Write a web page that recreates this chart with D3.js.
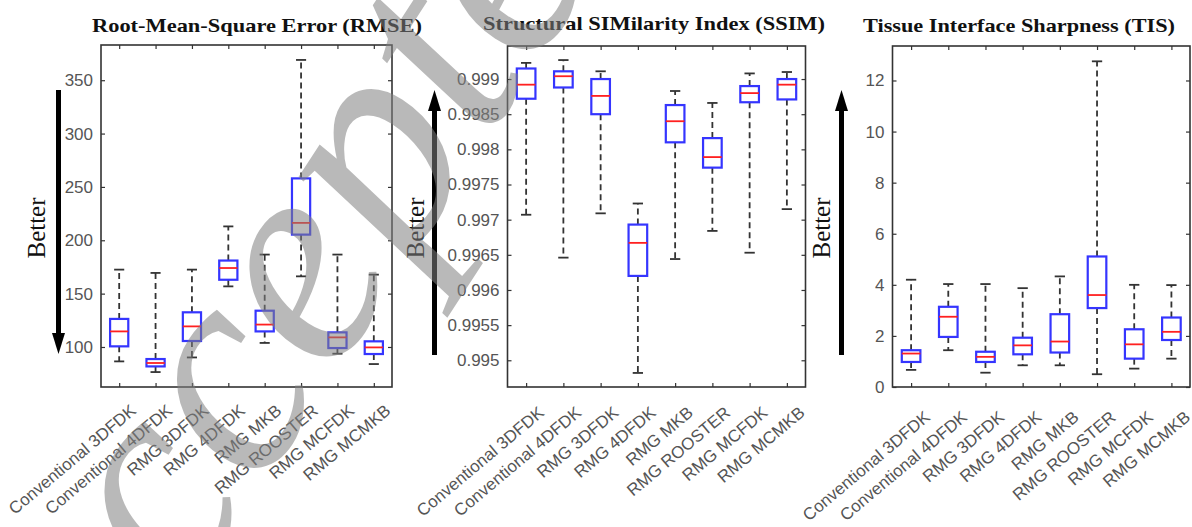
<!DOCTYPE html>
<html>
<head>
<meta charset="utf-8">
<script src="https://cdn.jsdelivr.net/npm/d3@7"></script>
<style>
  body { margin: 0; background: #fff; }
  svg { display: block; }
</style>
</head>
<body>
<script>
const width = 1192;
const height = 527;

const categories = ["Conventional 3DFDK", "Conventional 4DFDK", "RMG 3DFDK", "RMG 4DFDK",
                    "RMG MKB", "RMG ROOSTER", "RMG MCFDK", "RMG MCMKB"];

// [lower whisker, Q1, median, Q3, upper whisker]
const rmseStats = [
  [86.5, 100.6, 114.6, 126.3, 172.5],
  [76.5, 81.8, 85, 88.7, 169.4],
  [90.2, 105.6, 119.3, 132.5, 172.5],
  [156.8, 163, 174, 181, 213],
  [103.8, 114.6, 121, 134, 186.6],
  [166.2, 205.3, 216.3, 258, 369],
  [93.7, 99, 109, 113.7, 186.6],
  [84, 93.4, 99.6, 105.3, 167.8]
];
const ssimStats = [
  [0.99707, 0.99872, 0.99892, 0.99915, 0.99923],
  [0.99646, 0.99888, 0.99904, 0.99911, 0.99927],
  [0.99709, 0.9985, 0.99876, 0.999, 0.99911],
  [0.99482, 0.9962, 0.99667, 0.99693, 0.99723],
  [0.99644, 0.9981, 0.9984, 0.99863, 0.99883],
  [0.99684, 0.99774, 0.99789, 0.99816, 0.99866],
  [0.99653, 0.99867, 0.9988, 0.9989, 0.99908],
  [0.99715, 0.99871, 0.99892, 0.999, 0.9991]
];
const tisStats = [
  [0.67, 0.98, 1.31, 1.44, 4.2],
  [1.44, 1.96, 2.75, 3.14, 4.03],
  [0.56, 0.98, 1.18, 1.38, 4.03],
  [0.85, 1.28, 1.63, 1.93, 3.87],
  [0.85, 1.35, 1.78, 2.85, 4.33],
  [0.5, 3.09, 3.6, 5.11, 12.75],
  [0.72, 1.11, 1.67, 2.26, 4.0],
  [1.11, 1.84, 2.16, 2.72, 3.99]
];

const rmseTicks = [100, 150, 200, 250, 300, 350];
const ssimTicks = [0.995, 0.9955, 0.996, 0.9965, 0.997, 0.9975, 0.998, 0.9985, 0.999];
const tisTicks = [0, 2, 4, 6, 8, 10, 12];

const panels = [
  { title: "Root-Mean-Square Error (RMSE)", stats: rmseStats, ticks: rmseTicks, domain: [62.5, 383],
    x0: 101, x1: 392, top: 45, bottom: 387, titleX: 257, titleW: 330, titleY: 32,
    betterX: 45, arrowX: 58.5, arrowDown: true, labelDx: 18, labelDy: 25.5 },
  { title: "Structural SIMilarity Index (SSIM)", stats: ssimStats, ticks: ssimTicks, domain: [0.99462, 0.99947],
    x0: 507.5, x1: 805.5, top: 46, bottom: 387, titleX: 654, titleW: 342, titleY: 30,
    betterX: 424, arrowX: 434.5, arrowDown: false, labelDx: 19, labelDy: 27.5 },
  { title: "Tissue Interface Sharpness (TIS)", stats: tisStats, ticks: tisTicks, domain: [0, 13.35],
    x0: 892.5, x1: 1190, top: 46, bottom: 387, titleX: 1019, titleW: 312, titleY: 31.5,
    betterX: 830, arrowX: 841.5, arrowDown: false, labelDx: 20, labelDy: 32 }
];

const svg = d3.select("body")
    .append("svg")
    .attr("width", width)
    .attr("height", height);

panels.forEach(p => {
    const x = d3.scalePoint().domain(categories).range([p.x0, p.x1]).padding(0.5);
    const y = d3.scaleLinear().domain(p.domain).range([p.bottom, p.top]);
    const g = svg.append("g");
    const half = x.step() * 0.25;

    // axes, ticks pointing inward on all four sides
    g.append("g")
        .attr("transform", `translate(${p.x0},0)`)
        .call(d3.axisLeft(y).tickValues(p.ticks).tickSizeInner(-4).tickSizeOuter(0).tickPadding(8)
              .tickFormat(d3.format("")))
        .call(a => a.selectAll("text").attr("fill", "#555").style("font", "17px 'Liberation Sans', Arial, sans-serif"));
    g.append("g")
        .attr("transform", `translate(${p.x1},0)`)
        .call(d3.axisRight(y).tickValues(p.ticks).tickSizeInner(-4).tickSizeOuter(0).tickFormat(""));
    g.append("g")
        .attr("transform", `translate(0,${p.top})`)
        .call(d3.axisTop(x).tickSizeInner(-4).tickSizeOuter(0).tickFormat(""));
    g.append("g")
        .attr("transform", `translate(0,${p.bottom})`)
        .call(d3.axisBottom(x).tickSizeInner(-4).tickSizeOuter(0).tickFormat(""));
    g.selectAll(".domain").remove();
    g.selectAll(".tick line").attr("stroke", "#333").attr("stroke-width", 1.2);

    g.append("rect")
        .attr("x", p.x0).attr("y", p.top)
        .attr("width", p.x1 - p.x0).attr("height", p.bottom - p.top)
        .attr("fill", "none").attr("stroke", "#333").attr("stroke-width", 1.6);

    // rotated category labels
    g.selectAll(".xlab")
        .data(categories)
        .enter().append("text")
        .attr("class", "xlab")
        .attr("transform", d => `translate(${x(d) + p.labelDx},${p.bottom + p.labelDy}) rotate(-40)`)
        .attr("text-anchor", "end")
        .attr("fill", "#555")
        .style("font", "17px 'Liberation Sans', Arial, sans-serif")
        .text(d => d);

    // boxes
    const box = g.selectAll(".box")
        .data(p.stats)
        .enter().append("g")
        .attr("transform", (d, i) => `translate(${x(categories[i])},0)`);

    box.append("line")
        .attr("y1", d => y(d[3])).attr("y2", d => y(d[4]))
        .attr("stroke", "#333").attr("stroke-width", 1.8).attr("stroke-dasharray", "6,4");
    box.append("line")
        .attr("y1", d => y(d[1])).attr("y2", d => y(d[0]))
        .attr("stroke", "#333").attr("stroke-width", 1.8).attr("stroke-dasharray", "6,4");
    [0, 4].forEach(k => {
        box.append("line")
            .attr("x1", -half / 2 - 0.5).attr("x2", half / 2 + 0.5)
            .attr("y1", d => y(d[k])).attr("y2", d => y(d[k]))
            .attr("stroke", "#333").attr("stroke-width", 1.8);
    });
    box.append("rect")
        .attr("x", -half).attr("width", half * 2)
        .attr("y", d => y(d[3])).attr("height", d => y(d[1]) - y(d[3]))
        .attr("fill", "none").attr("stroke", "#3535ff").attr("stroke-width", 2.2);
    box.append("line")
        .attr("x1", -half).attr("x2", half)
        .attr("y1", d => y(d[2])).attr("y2", d => y(d[2]))
        .attr("stroke", "#ff2020").attr("stroke-width", 1.8);

    // title
    svg.append("text")
        .attr("x", p.titleX).attr("y", p.titleY)
        .attr("text-anchor", "middle")
        .attr("textLength", p.titleW).attr("lengthAdjust", "spacingAndGlyphs")
        .style("font", "bold 19px 'Liberation Serif', 'Times New Roman', serif")
        .attr("fill", "#111")
        .text(p.title);

    // "Better" and arrow
    svg.append("text")
        .attr("transform", `translate(${p.betterX},228) rotate(-90)`)
        .attr("text-anchor", "middle")
        .style("font", "25px 'Liberation Serif', 'Times New Roman', serif")
        .attr("fill", "#111")
        .text("Better");
    const tail = p.arrowDown ? 90 : 355;
    const tip = p.arrowDown ? 354 : 90;
    const base = p.arrowDown ? tip - 21 : tip + 21;
    svg.append("line")
        .attr("x1", p.arrowX).attr("x2", p.arrowX)
        .attr("y1", tail).attr("y2", base)
        .attr("stroke", "#000").attr("stroke-width", 5);
    svg.append("path")
        .attr("d", `M${p.arrowX - 6.5},${base} L${p.arrowX + 6.5},${base} L${p.arrowX},${tip} Z`)
        .attr("fill", "#000");
});

// journal watermark over the left panel
svg.append("text")
    .attr("transform", "translate(86,757) rotate(-57)")
    .style("font", "italic 300px 'Liberation Serif', 'Times New Roman', serif")
    .attr("fill", "#808080")
    .attr("fill-opacity", 0.55)
    .text("Accepted");
</script>
</body>
</html>
